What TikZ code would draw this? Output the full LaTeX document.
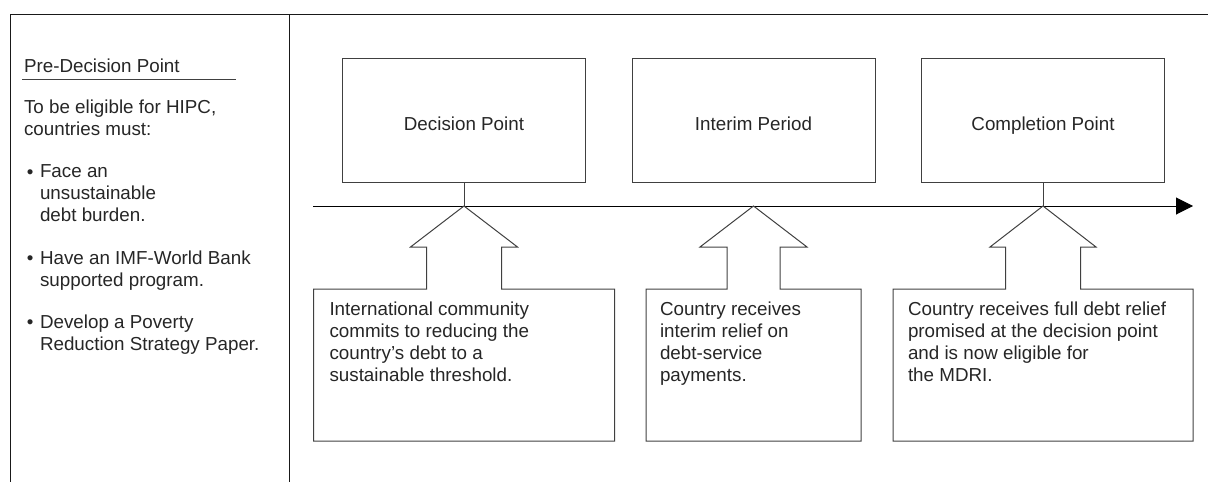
\documentclass[tikz,border=0pt]{standalone}
\usepackage{fontspec}
\setmainfont{Liberation Sans}
\usetikzlibrary{calc, arrows.meta, positioning}

\begin{document}
\begin{tikzpicture}[x=1pt, y=-1pt,
    line/.style={draw=black!75, line width=1pt},
    txt/.style={text=black!85, font=\fontsize{18.8}{22}\selectfont, inner sep=0pt, outer sep=0pt, align=left},
    phasebox/.style={line, txt, minimum width=243pt, minimum height=124pt, text height=20pt, text depth=0pt},
    reliefbox/.style={inner sep=0pt, outer sep=0pt, minimum height=152pt, anchor=north}]
    \useasboundingbox (0,0) rectangle (1208,482);
    %外枠
    \draw[line, draw=black!90] (10,482) -- (10,14) -- (1208,14);
    \draw[line, draw=black!90] (289,14) -- (289,482);
    %左の欄
    \node (pre) [txt, anchor=base west] at (24,72) {Pre-Decision Point};
    \draw[line] ($(pre.base west)+(-2,7)$) -- ++(214,0);
    \node (must) [txt, anchor=north west] at (24,99.6) {To be eligible for HIPC,\\countries must:};
    \foreach \y/\t [count=\i] in {178/{Face an\\unsustainable\\debt burden.},
        264/{Have an IMF-World Bank\\supported program.},
        328/{Develop a Poverty\\Reduction Strategy Paper.}}{
        \node (dot\i) [txt, anchor=base west] at (27,\y) {\textbullet};
        \node (req\i) [txt, anchor=north west] at (40,\y-13.5) {\t};
    }
    %時間軸
    \coordinate (start) at (313,206);
    \coordinate (end) at (1193,206);
    \draw[black, line width=1pt, -{Triangle[length=17pt, width=17pt]}] (start) -- (end);
    %各段階の箱
    \node (decision) [phasebox] at (464,120) {Decision Point};
    \node (interim) [phasebox] at (753.5,120) {Interim Period};
    \node (completion) [phasebox] at (1043,120) {Completion Point};
    \draw[line] (decision.south) -- (decision.south |- start);
    \draw[line] (completion.south) -- (completion.south |- start);
    %下の箱
    \node (reliefA) [reliefbox, minimum width=301pt] at (464,289) {};
    \node (reliefB) [reliefbox, minimum width=215pt] at (753.5,289) {};
    \node (reliefC) [reliefbox, minimum width=300pt] at (1043,289) {};
    \node (textA) [txt, anchor=north west] at ($(reliefA.north west)+(16,12.5)$)
        {International community\\commits to reducing the\\country’s debt to a\\sustainable threshold.};
    \node (textB) [txt, anchor=north west] at ($(reliefB.north west)+(14,12.5)$)
        {Country receives\\interim relief on\\debt-service\\payments.};
    \node (textC) [txt, anchor=north west] at ($(reliefC.north west)+(15,12.5)$)
        {Country receives full debt relief\\promised at the decision point\\and is now eligible for\\the MDRI.};
    %矢印と箱の輪郭
    \foreach \b/\h/\s in {reliefA/53.5/37.5, reliefB/53.5/26.5, reliefC/53/37.5}
        \draw[line, line join=miter] ($(\b.north)+(-\s,0)$) -- ++(0,-42) -- ++({\s-\h},0)
            -- (\b.north |- start) -- ($(\b.north)+(\h,-42)$) -- ++({\s-\h},0) -- ++(0,42)
            -- (\b.north east) -- (\b.south east) -- (\b.south west) -- (\b.north west) -- cycle;
\end{tikzpicture}
\end{document}
